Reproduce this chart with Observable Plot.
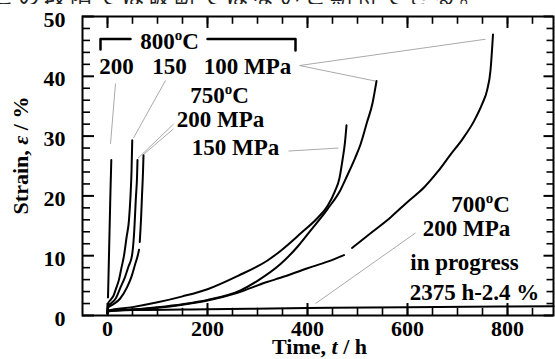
<!DOCTYPE html>
<html><head><meta charset="utf-8">
<script src="https://cdn.jsdelivr.net/npm/d3@7"></script>
<script src="https://cdn.jsdelivr.net/npm/@observablehq/plot@0.6"></script>
<style>
html,body{margin:0;padding:0;background:#fff;overflow:hidden;width:555px;height:359px;}
#wrap{position:relative;width:555px;height:359px;overflow:hidden;}
#chart{position:absolute;left:0;top:0;}
#jp{position:absolute;left:-8px;top:-17px;height:21px;overflow:hidden;font-family:"Noto Sans CJK JP";font-size:22px;line-height:22px;letter-spacing:4px;white-space:nowrap;color:#222;}
</style></head><body>
<div id="wrap"><div id="chart"></div><div id="jp">この段階では破断ではないと期待できる。</div></div>
<script>
// ---- data ----
const xTicks = [0, 200, 400, 600, 800];
const xMinor = [0, 50, 100, 150, 200, 250, 300, 350, 400, 450, 500, 550, 600, 650, 700, 750, 800, 850];
const yTicks = [0, 10, 20, 30, 40, 50];
const yMinor = [2, 4, 6, 8, 12, 14, 16, 18, 22, 24, 26, 28, 32, 34, 36, 38, 42, 44, 46, 48];

// creep curves: [time h, strain %]
const c800_200 = [[1,3],[2,6.5],[3,10.2],[4,13.8],[5,17.4],[6,21],[7,24],[7.6,26]];
const c800_150 = [[0,0.5],[1,2.0],[6,2.6],[12,3.3],[17,4.5],[23,6],[28,8],[33,10],[38,13],[43,16],[46,20],[48,24],[49.5,29.3]];
const c750_200a = [[0,0.4],[1,1.6],[8,2.1],[16,2.8],[26,4.7],[34,6.2],[42,8.2],[49,10],[53,13.5],[57,20],[59,23],[60,26]];
const c750_200b1 = [[0,0.4],[1,1.3],[12,1.9],[25,2.8],[39,4.7],[48,6.5],[55,8.5],[61,10.2],[63,11]];
const c750_200b2 = [[64.5,12.3],[67,16],[69,20],[71,24],[72,26.8]];
const c750_150 = [[0,0.5],[1,0.8],[50,1.4],[100,2.2],[150,3.2],[200,4.4],[260,6.6],[320,9.2],[346,10.8],[386,13.7],[420,16.3],[440,18.3],[455,20.8],[464,23],[470,26],[475,29],[478,31.8]];
const c800_100a = [[0,0.5],[1,0.8],[50,1.0],[100,1.4],[150,1.9],[200,2.6],[266,4.2],[300,5.8],[346,8.6],[380,11.5],[406,14.2],[440,17.8],[466,21],[480,23.5],[496,26.5],[506,28.6],[519,32.3],[530,35.5],[538,39.2]];
const c800_100b1 = [[0,0.5],[1,0.7],[50,1.0],[100,1.3],[150,1.8],[200,2.5],[260,3.8],[319,5.6],[346,6.3],[400,7.9],[440,9.0],[473,10.1]];
const c800_100b2 = [[489,11.3],[530,14],[566,16.4],[600,19],[633,21.4],[660,24],[686,26.9],[710,29.5],[733,32.5],[750,35.5],[759,37.6],[766,41],[771,47]];
const c700_200 = [[0,0.3],[1,0.7],[50,0.9],[200,1.05],[400,1.25],[600,1.4],[892,1.55]];

const curves = [
  ["800/200", c800_200], ["800/150", c800_150], ["750/200a", c750_200a],
  ["750/200b1", c750_200b1], ["750/200b2", c750_200b2], ["750/150", c750_150],
  ["800/100a", c800_100a], ["800/100b1", c800_100b1], ["800/100b2", c800_100b2],
  ["700/200", c700_200]
];
const rows = curves.flatMap(([id, pts]) => pts.map(([t, s]) => ({id, t, s})));

// annotations (data coordinates)
const labels = [
  {text: "800°C", t: 124, s: 45.8},
  {text: "200", t: 18, s: 41.6},
  {text: "150", t: 124, s: 41.6},
  {text: "100 MPa", t: 280, s: 41.6},
  {text: "750°C", t: 224, s: 36.7},
  {text: "200 MPa", t: 226, s: 32.8},
  {text: "150 MPa", t: 256, s: 28},
  {text: "700°C", t: 746, s: 18.6},
  {text: "200 MPa", t: 718, s: 14.6},
  {text: "in progress", t: 714, s: 8.8},
  {text: "2375 h-2.4 %", t: 734, s: 3.8}
];
const leaders = [
  {t1: 16, s1: 38.8, t2: 6, s2: 28.7},
  {t1: 116, s1: 39.3, t2: 52, s2: 29.7},
  {t1: 132, s1: 32.0, t2: 61, s2: 26.3},
  {t1: 132, s1: 31.2, t2: 73, s2: 27.0},
  {t1: 384, s1: 41.8, t2: 536, s2: 39.2},
  {t1: 384, s1: 41.8, t2: 756, s2: 46.2},
  {t1: 362, s1: 27.5, t2: 462, s2: 28},
  {t1: 616, s1: 13.8, t2: 416, s2: 2}
];
const bracketL = [[-14, 44.5], [-14, 46.25], [46, 46.25]];
const bracketR = [[200, 46.25], [376, 46.25], [376, 44.3]];

const font = '"Liberation Serif", "Times New Roman", serif';
const chart = Plot.plot({
  width: 555, height: 359,
  marginLeft: 82, marginRight: 2, marginTop: 16, marginBottom: 44,
  x: {domain: [-50, 892]},
  y: {domain: [0, 50]},
  style: {fontFamily: font, fontWeight: "bold", color: "#000", background: "#fff", overflow: "visible"},
  marks: [
    // inward ticks
    Plot.ruleX(xMinor, {x: d => d, y1: 0, y2: 1.2, stroke: "#000", strokeWidth: 1.6}),
    Plot.ruleX(xTicks, {x: d => d, y1: 0, y2: 2.0, stroke: "#000", strokeWidth: 2}),
    Plot.ruleX(xMinor, {x: d => d, y1: 50, y2: 48.7, stroke: "#000", strokeWidth: 1.6}),
    Plot.ruleX(xTicks, {x: d => d, y1: 50, y2: 48.0, stroke: "#000", strokeWidth: 2}),
    Plot.ruleY(yMinor, {y: d => d, x1: -50, x2: -34, stroke: "#000", strokeWidth: 1.6}),
    Plot.ruleY(yTicks, {y: d => d, x1: -50, x2: -26, stroke: "#000", strokeWidth: 2}),
    Plot.ruleY(yMinor, {y: d => d, x1: 892, x2: 879, stroke: "#000", strokeWidth: 1.6}),
    Plot.ruleY(yTicks, {y: d => d, x1: 892, x2: 873, stroke: "#000", strokeWidth: 2}),
    Plot.axisX(xTicks, {tickSize: 0, tickPadding: 5, fontSize: 22, fontWeight: "bold", label: null}),
    Plot.axisY(yTicks, {tickSize: 0, tickPadding: 17, dy: 3, fontSize: 22, fontWeight: "bold", label: null}),
    // leaders
    Plot.link(leaders, {x1: "t1", y1: "s1", x2: "t2", y2: "s2", stroke: "#aaa", strokeWidth: 1}),
    // bracket
    Plot.line(bracketL, {stroke: "#000", strokeWidth: 2.5}),
    Plot.line(bracketR, {stroke: "#000", strokeWidth: 2.5}),
    // curves
    Plot.line(rows, {x: "t", y: "s", z: "id", stroke: "#000", strokeWidth: 2, curve: "monotone-x"}),
    // labels
    Plot.text(labels, {x: "t", y: "s", text: "text", fontSize: 23, fontWeight: "bold", fill: "#000"}),
    Plot.frame({stroke: "#000", strokeWidth: 2})
  ]
});

const svg = d3.select(chart);
// superscript "o" in temperatures
svg.selectAll("text").each(function() {
  const el = d3.select(this);
  const txt = this.textContent;
  if (txt.includes("°") && this.childElementCount === 0) {
    const [a, b] = txt.split("°");
    el.text(null);
    el.append("tspan").text(a);
    el.append("tspan").attr("dy", -9).attr("font-size", 15).text("o");
    el.append("tspan").attr("dy", 9).text(b);
  }
});
const sx = chart.scale("x"), sy = chart.scale("y");
const xMid = (sx.range[0] + sx.range[1]) / 2 + 2;
const xt = svg.append("text").attr("x", xMid).attr("y", 354)
  .attr("text-anchor", "middle").attr("font-size", 22).attr("font-weight", "bold")
  .attr("font-family", font).attr("fill", "#000");
xt.append("tspan").text("Time, ");
xt.append("tspan").attr("font-style", "italic").text("t");
xt.append("tspan").text(" / h");
const yMid = (sy.range[0] + sy.range[1]) / 2 - 10;
const yt = svg.append("text").attr("transform", `translate(28,${yMid}) rotate(-90)`)
  .attr("text-anchor", "middle").attr("font-size", 22).attr("font-weight", "bold")
  .attr("font-family", font).attr("fill", "#000");
yt.append("tspan").text("Strain, ");
yt.append("tspan").attr("font-style", "italic").text("ε");
yt.append("tspan").text(" / %");

document.getElementById("chart").appendChild(chart);
</script>
</body></html>
